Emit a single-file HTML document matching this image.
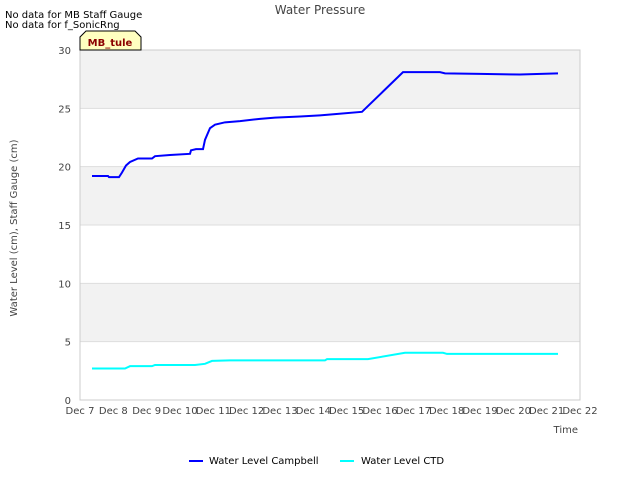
<!DOCTYPE html>
<html><head><meta charset="utf-8"><style>
body{margin:0;background:#fff;font-family:"Liberation Sans","DejaVu Sans",sans-serif;}
svg text{font-family:"DejaVu Sans","Liberation Sans",sans-serif;}
</style></head><body>
<svg id="chart" width="640" height="480" xmlns="http://www.w3.org/2000/svg">
<rect width="640" height="480" fill="#fff"/>
<g id="bands"></g>
<rect x="80" y="50" width="500" height="350" fill="none" stroke="#ccc"/>
<text x="320" y="14" text-anchor="middle" font-size="12" fill="#444">Water Pressure</text>
<text x="5" y="18" font-size="10" fill="#000">No data for MB Staff Gauge</text>
<text x="5" y="28" font-size="10" fill="#000">No data for f_SonicRng</text>
<g id="yt"></g><g id="xt"></g>
<text x="17" y="228" font-size="10" fill="#444" text-anchor="middle" transform="rotate(-90 17 228)">Water Level (cm), Staff Gauge (cm)</text>
<text x="578" y="433" font-size="10" fill="#444" text-anchor="end">Time</text>
<g id="series"></g>
<g>
<path d="M80,50 L80,37 L86,31 L135,31 L141,37 L141,50 Z" fill="#ffffc0" stroke="#000" stroke-width="1"/>
<text x="110" y="46" font-size="10" font-weight="bold" fill="#8b0000" text-anchor="middle">MB_tule</text>
</g>
<g>
<line x1="189" y1="461" x2="203" y2="461" stroke="#0000ff" stroke-width="2"/>
<text x="209" y="464" font-size="10" fill="#000">Water Level Campbell</text>
<line x1="340" y1="461" x2="354" y2="461" stroke="#00ffff" stroke-width="2"/>
<text x="361" y="464" font-size="10" fill="#000">Water Level CTD</text>
</g>
</svg>
<script>
const xTickLabels=["Dec 7","Dec 8","Dec 9","Dec 10","Dec 11","Dec 12","Dec 13","Dec 14","Dec 15","Dec 16","Dec 17","Dec 18","Dec 19","Dec 20","Dec 21","Dec 22"];
const yTicks=[0,5,10,15,20,25,30];
const campbellDays=[0.36,0.84,0.87,1.17,1.26,1.38,1.5,1.74,2.16,2.25,2.7,3.3,3.33,3.48,3.69,3.75,3.9,4.05,4.35,4.8,5.4,5.85,6.6,7.2,7.65,8.46,9.69,10.8,10.95,12,13.2,14.34];
const campbellVals=[19.2,19.2,19.1,19.1,19.5,20.1,20.4,20.7,20.7,20.9,21.0,21.1,21.4,21.5,21.5,22.3,23.3,23.6,23.8,23.9,24.1,24.2,24.3,24.4,24.5,24.7,28.1,28.1,28.0,27.95,27.9,28.0];
const ctdDays=[0.36,1.35,1.5,2.16,2.25,3.45,3.75,3.96,4.5,7.35,7.41,8.64,9.75,10.89,11.01,14.34];
const ctdVals=[2.7,2.7,2.9,2.9,3.0,3.0,3.1,3.35,3.4,3.4,3.5,3.5,4.05,4.05,3.95,3.95];
const NS="http://www.w3.org/2000/svg";
const X0=80,X1=580,Y0=400,Y1=50;
const xs=d=>X0+d*(X1-X0)/15;
const ys=v=>Y0-v*(Y0-Y1)/30;
function mk(t,a,p){const e=document.createElementNS(NS,t);for(const k in a)e.setAttribute(k,a[k]);p.appendChild(e);return e;}
const bands=document.getElementById('bands');
for(let i=0;i<yTicks.length-1;i++){
 if(i%2===1){const r=mk('rect',{x:X0,y:ys(yTicks[i+1]),width:X1-X0,height:ys(yTicks[i])-ys(yTicks[i+1]),fill:'#f2f2f2'},bands);
 
 }
 const l=mk('line',{x1:X0,x2:X1,y1:ys(yTicks[i]),y2:ys(yTicks[i]),stroke:'#ddd'},bands);
 
 
}
const yt=document.getElementById('yt');
yTicks.forEach(v=>{const t=mk('text',{x:71,y:ys(v)+4,'font-size':10,fill:'#444','text-anchor':'end'},yt);t.textContent=v;
 
 });
const xt=document.getElementById('xt');
xTickLabels.forEach((s,i)=>{const t=mk('text',{x:xs(i),y:414,'font-size':10,fill:'#444','text-anchor':'middle'},xt);t.textContent=s;
 
 });
const sg=document.getElementById('series');
function line(ds,vs,c,n){const p=mk('polyline',{points:ds.map((d,i)=>xs(d)+','+ys(vs[i])).join(' '),fill:'none',stroke:c,'stroke-width':2},sg);
 
 }
line(campbellDays,campbellVals,'#0000ff','series-campbell');
line(ctdDays,ctdVals,'#00ffff','series-ctd');
</script>
</body></html>
